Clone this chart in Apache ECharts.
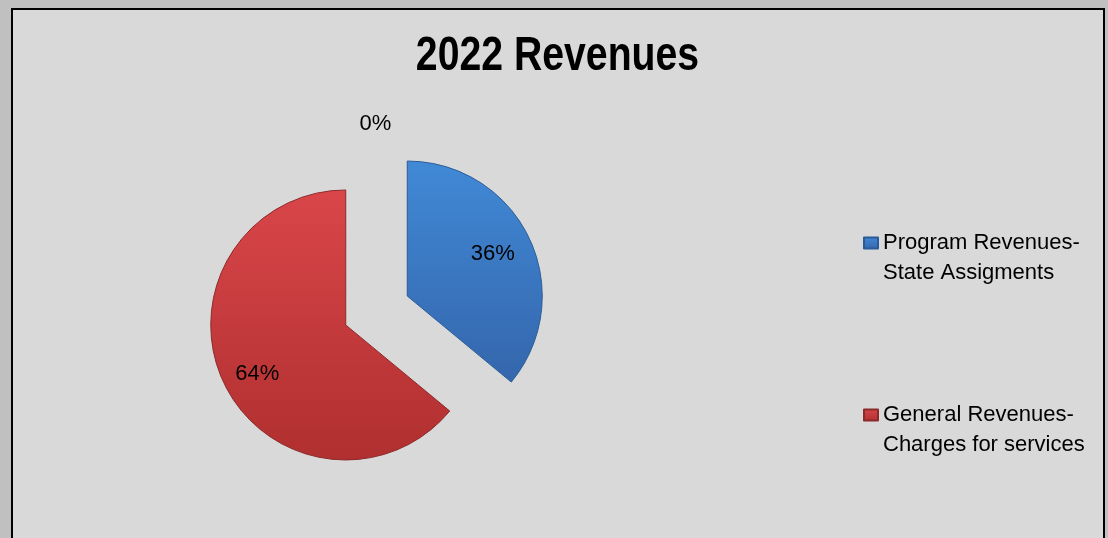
<!DOCTYPE html>
<html>
<head>
<meta charset="utf-8">
<title>2022 Revenues</title>
<script src="https://cdn.jsdelivr.net/npm/echarts@6/dist/echarts.min.js"></script>
<style>
  html, body { margin: 0; padding: 0; background: #c0c0c0; }
  #frame {
    position: absolute; left: 11px; top: 8px; width: 1094px; height: 545px;
    box-sizing: border-box; border: 2px solid #000; background: #d9d9d9;
  }
  #chart { position: absolute; left: 0; top: 0; width: 1108px; height: 538px; }
</style>
</head>
<body>
<div id="frame"></div>
<div id="chart"></div>
<script>
// Revenue categories (the first one has no name and a zero share)
const categories = ['', 'Program Revenues-State Assigments', 'General Revenues-Charges for services'];
// Share of 2022 revenues, percent
const shares = [0, 36, 64];
const chartTitle = '2022 Revenues';

// Gradient stops (top, bottom) and edge colour for each slice
const sliceTop = ['#9a9a9a', '#4189d6', '#d9464a'];
const sliceBottom = ['#808080', '#3466ac', '#b02f2f'];
const sliceEdge = ['#606060', '#2b5b96', '#8c2a2a'];

const FONT = "'Liberation Sans', Arial, sans-serif";
const center = [376.5, 310.5];
const radius = 135;
const explode = 34;
// extra nudge of each value label after the radial push
const labelShift = [[4, -3], [-4, 0], [1, 7]];

// Mid-angle direction of each slice, clockwise from 12 o'clock
const total = shares.reduce((a, b) => a + b, 0);
let acc = 0;
const midDir = shares.map(v => {
  const a = (acc + v / 2) / total * 2 * Math.PI;
  acc += v;
  return [Math.sin(a), -Math.cos(a)];
});

const chart = echarts.init(document.getElementById('chart'), null, { renderer: 'canvas' });

const data = categories.map((name, i) => ({
  name: name,
  value: shares[i],
  selected: true,
  itemStyle: {
    color: {
      type: 'linear', x: 0, y: 0, x2: 0, y2: 1,
      colorStops: [{ offset: 0, color: sliceTop[i] }, { offset: 1, color: sliceBottom[i] }]
    },
    borderColor: sliceEdge[i],
    borderWidth: shares[i] === 0 ? 0 : 1
  },
  label: { position: shares[i] === 0 ? 'outside' : 'inside' },
  labelLine: { show: false, length: 15, length2: 0 }
}));

chart.setOption({
  animation: false,
  graphic: [{
    type: 'text',
    x: 557.5,
    y: 56.5,
    scaleX: 0.8,
    scaleY: 1,
    style: {
      text: chartTitle,
      align: 'center',
      verticalAlign: 'middle',
      font: "bold 49px 'Liberation Sans', Arial, sans-serif",
      fill: '#000'
    }
  }],
  legend: {
    orient: 'vertical',
    left: 863,
    top: 198,
    padding: 0,
    itemGap: 82,
    itemWidth: 14,
    itemHeight: 11,
    icon: 'rect',
    selectedMode: false,
    data: categories.filter(c => c !== ''),
    // blank first line keeps the marker level with the first text line
    formatter: name => '\n' + name.replace('-', '-\n'),
    textStyle: {
      fontFamily: FONT,
      fontSize: 22,
      lineHeight: 30,
      color: '#000'
    }
  },
  series: [{
    type: 'pie',
    center: center,
    radius: radius,
    startAngle: 90,
    clockwise: true,
    selectedMode: 'multiple',
    selectedOffset: explode,
    avoidLabelOverlap: false,
    label: {
      formatter: '{d}%',
      fontFamily: FONT,
      fontSize: 22,
      color: '#000'
    },
    labelLayout: function (p) {
      const i = p.dataIndex;
      const s = labelShift[i];
      if (shares[i] === 0) {
        return { align: 'center', dx: s[0], dy: s[1] };
      }
      // push inner labels outward from the half-radius point
      const k = 0.21 * radius;
      return { dx: midDir[i][0] * k + s[0], dy: midDir[i][1] * k + s[1] };
    },
    emphasis: { disabled: true },
    data: data
  }]
});
</script>
</body>
</html>
